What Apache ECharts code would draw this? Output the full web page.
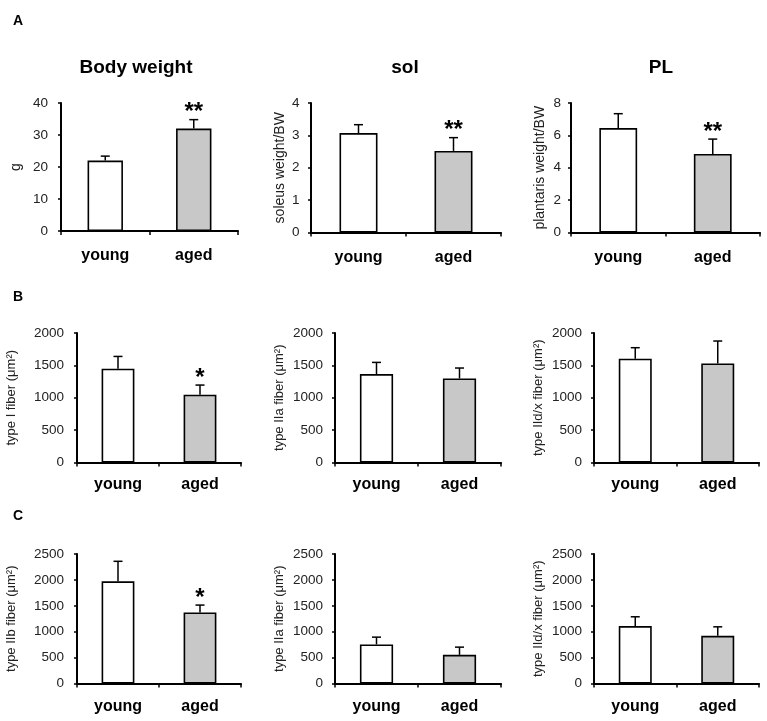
<!DOCTYPE html>
<html><head><meta charset="utf-8">
<script src="https://cdn.jsdelivr.net/npm/echarts@6/dist/echarts.min.js"></script>
<style>html,body{margin:0;padding:0;background:#fff}#c{width:767px;height:721px}</style>
</head><body><div id="c"></div>
<script>
const categories = ['young', 'aged'];

const bodyWeightMean = [22.0, 32.0];
const bodyWeightErr = [1.4, 2.8];
const bodyWeightSig = ['', '**'];

const solMean = [3.07, 2.52];
const solErr = [0.26, 0.41];
const solSig = ['', '**'];

const plMean = [6.45, 4.85];
const plErr = [0.89, 0.92];
const plSig = ['', '**'];

const bTypeIMean = [1448, 1046];
const bTypeIErr = [190, 150];
const bTypeISig = ['', '*'];

const bTypeIIaMean = [1366, 1298];
const bTypeIIaErr = [180, 161];
const bTypeIIaSig = ['', ''];

const bTypeIIdxMean = [1603, 1530];
const bTypeIIdxErr = [170, 346];
const bTypeIIdxSig = ['', ''];

const cTypeIIbMean = [1972, 1373];
const cTypeIIbErr = [387, 141];
const cTypeIIbSig = ['', '*'];

const cTypeIIaMean = [754, 553];
const cTypeIIaErr = [141, 149];
const cTypeIIaSig = ['', ''];

const cTypeIIdxMean = [1108, 920];
const cTypeIIdxErr = [180, 174];
const cTypeIIdxSig = ['', ''];

const yTicksRow1 = [[0, 40, 10], [0, 4, 1], [0, 8, 2]];
const yTicksRow2 = [0, 2000, 500];
const yTicksRow3 = [0, 2500, 500];

const FONT = '"Liberation Sans", Arial, sans-serif';
const barColors = ['#ffffff', '#c8c8c8'];

const panels = [
  {mean: bodyWeightMean, err: bodyWeightErr, sig: bodyWeightSig, name: 'g', ax: yTicksRow1[0],
   grid: {left: 61, top: 103, width: 177, height: 128}, nameGap: 38, labelMargin: 13, nameSize: 14, xMargin: 17},
  {mean: solMean, err: solErr, sig: solSig, name: 'soleus weight/BW', ax: yTicksRow1[1],
   grid: {left: 311, top: 103, width: 190, height: 129.5}, nameGap: 24, labelMargin: 11.5, nameSize: 14, xMargin: 17},
  {mean: plMean, err: plErr, sig: plSig, name: 'plantaris weight/BW', ax: yTicksRow1[2],
   grid: {left: 571, top: 103, width: 189, height: 129.5}, nameGap: 24, labelMargin: 10, nameSize: 14, xMargin: 17},
  {mean: bTypeIMean, err: bTypeIErr, sig: bTypeISig, name: 'type I fiber (\u03bcm\u00b2)', ax: yTicksRow2,
   grid: {left: 77, top: 333, width: 164, height: 129.5}, nameGap: 59, labelMargin: 13, nameSize: 13, xMargin: 14},
  {mean: bTypeIIaMean, err: bTypeIIaErr, sig: bTypeIIaSig, name: 'type IIa fiber (\u03bcm\u00b2)', ax: yTicksRow2,
   grid: {left: 335, top: 333, width: 166, height: 129.5}, nameGap: 49, labelMargin: 12, nameSize: 13, xMargin: 14},
  {mean: bTypeIIdxMean, err: bTypeIIdxErr, sig: bTypeIIdxSig, name: 'type IId/x fiber (\u03bcm\u00b2)', ax: yTicksRow2,
   grid: {left: 594, top: 333, width: 165, height: 129.5}, nameGap: 49, labelMargin: 12, nameSize: 13, xMargin: 14},
  {mean: cTypeIIbMean, err: cTypeIIbErr, sig: cTypeIIbSig, name: 'type IIb fiber (\u03bcm\u00b2)', ax: yTicksRow3,
   grid: {left: 77, top: 554, width: 164, height: 129.5}, nameGap: 59, labelMargin: 13, nameSize: 13, xMargin: 15},
  {mean: cTypeIIaMean, err: cTypeIIaErr, sig: cTypeIIaSig, name: 'type IIa fiber (\u03bcm\u00b2)', ax: yTicksRow3,
   grid: {left: 335, top: 554, width: 166, height: 129.5}, nameGap: 49, labelMargin: 12, nameSize: 13, xMargin: 15},
  {mean: cTypeIIdxMean, err: cTypeIIdxErr, sig: cTypeIIdxSig, name: 'type IId/x fiber (\u03bcm\u00b2)', ax: yTicksRow3,
   grid: {left: 594, top: 554, width: 165, height: 129.5}, nameGap: 49, labelMargin: 12, nameSize: 13, xMargin: 15}
];

const grid = [], xAxis = [], yAxis = [], series = [];
panels.forEach((p, i) => {
  grid.push(Object.assign({containLabel: false}, p.grid));
  xAxis.push({
    type: 'category', gridIndex: i, data: categories,
    axisLine: {lineStyle: {color: '#000', width: 2}},
    axisTick: {show: true, length: 4, lineStyle: {color: '#000', width: 1.5}},
    axisLabel: {fontFamily: FONT, fontWeight: 'bold', fontSize: 16, color: '#000', margin: p.xMargin}
  });
  yAxis.push({
    type: 'value', gridIndex: i, min: p.ax[0], max: p.ax[1], interval: p.ax[2],
    name: p.name, nameLocation: 'middle', nameGap: p.nameGap, nameRotate: 90,
    nameTextStyle: {fontFamily: FONT, fontSize: p.nameSize, color: '#222'},
    axisLine: {show: true, lineStyle: {color: '#000', width: 2}},
    axisTick: {show: true, length: 3, lineStyle: {color: '#000', width: 1.5}},
    axisLabel: {fontFamily: FONT, fontSize: 13.5, color: '#222', margin: p.labelMargin,
      formatter: v => String(v)},
    splitLine: {show: false}
  });
  series.push({
    type: 'bar', xAxisIndex: i, yAxisIndex: i, barWidth: '40%',
    data: p.mean.map((v, k) => ({value: v, itemStyle: {color: barColors[k], borderColor: '#000', borderWidth: 1.6}})),
    silent: true, animation: false, z: 2
  });
  series.push({
    type: 'custom', xAxisIndex: i, yAxisIndex: i, animation: false, silent: true, z: 3,
    data: p.mean.map((v, k) => [k, v, v + p.err[k]]),
    renderItem: (params, api) => {
      const k = api.value(0);
      const base = api.coord([k, api.value(1)]);
      const top = api.coord([k, api.value(2)]);
      const children = [
        {type: 'line', shape: {x1: base[0], y1: base[1], x2: top[0], y2: top[1]}, style: {stroke: '#000', lineWidth: 1.5}},
        {type: 'line', shape: {x1: top[0] - 4.5, y1: top[1], x2: top[0] + 4.5, y2: top[1]}, style: {stroke: '#000', lineWidth: 1.5}}
      ];
      const s = p.sig[k];
      if (s) {
        children.push({type: 'text', style: {text: s, x: top[0], y: top[1] + 5, align: 'center', verticalAlign: 'bottom',
          font: 'bold 24px ' + FONT, fill: '#000'}});
      }
      return {type: 'group', children};
    }
  });
});

const titles = [
  {text: 'A', left: 13, top: 14},
  {text: 'B', left: 13, top: 290},
  {text: 'C', left: 13, top: 509}
].map(t => Object.assign(t, {textStyle: {fontFamily: FONT, fontWeight: 'bold', fontSize: 14, color: '#000'}, padding: 0}));
const heads = [
  {text: 'Body weight', x: 136},
  {text: 'sol', x: 405},
  {text: 'PL', x: 661}
].map(t => ({text: t.text, left: t.x, top: 58, textAlign: 'center', padding: 0,
  textStyle: {fontFamily: FONT, fontWeight: 'bold', fontSize: 19, color: '#000'}}));

const chart = echarts.init(document.getElementById('c'), null, {renderer: 'canvas'});
chart.setOption({
  animation: false,
  backgroundColor: '#fff',
  title: titles.concat(heads),
  grid, xAxis, yAxis, series
});
</script>
</body></html>
